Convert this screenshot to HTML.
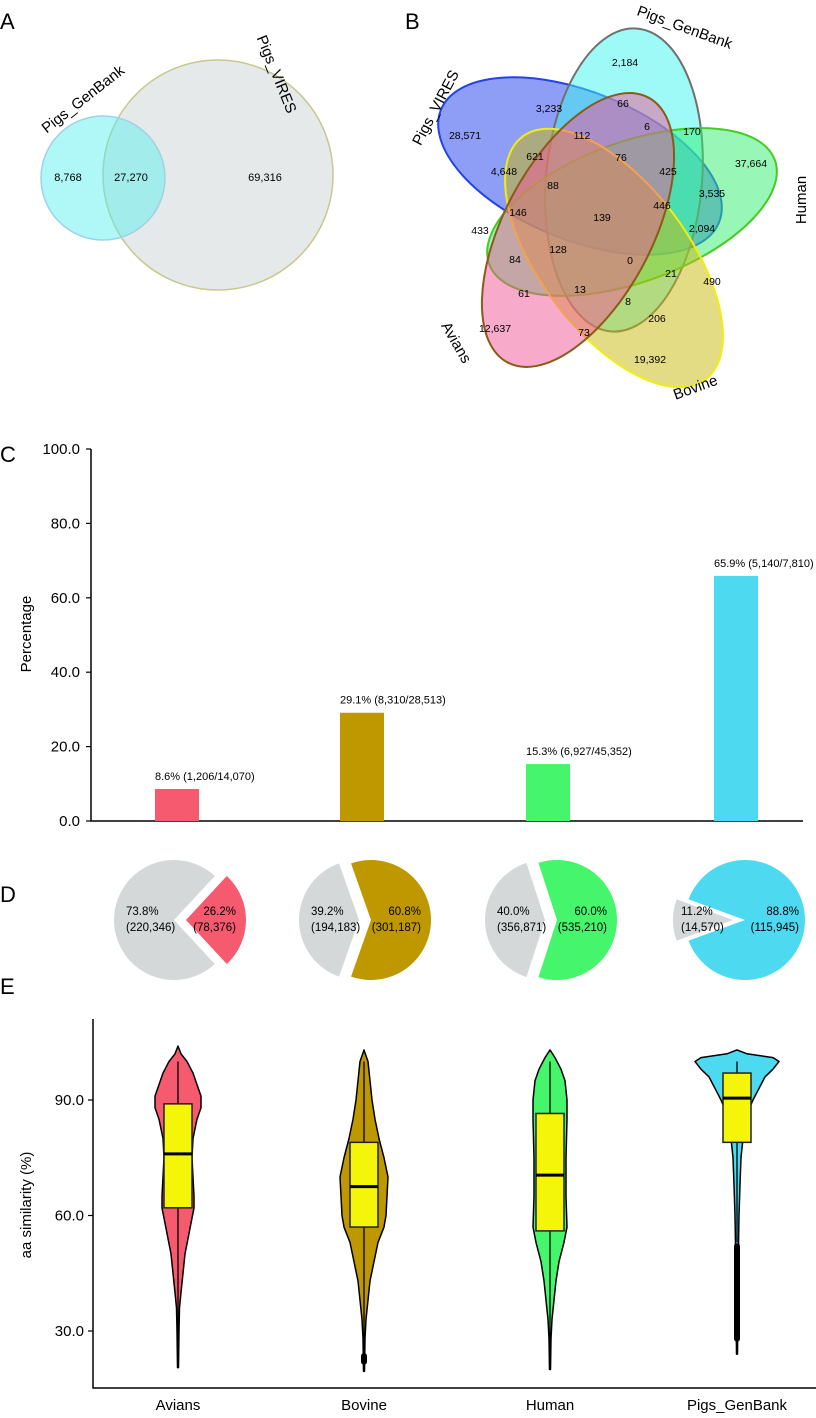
<!DOCTYPE html>
<html><head><meta charset="utf-8"><style>
body{margin:0;background:#fff}
svg{display:block;font-family:"Liberation Sans",Arial,sans-serif}
</style></head><body>
<svg id="fig" width="816" height="1418" viewBox="0 0 816 1418">
<g font-size="22" fill="#000">
<text x="0" y="29">A</text>
<text x="405" y="29">B</text>
<text x="0" y="462">C</text>
<text x="0" y="902">D</text>
<text x="0" y="994">E</text>
</g>
<g id="venn2"></g>
<g id="venn5"></g>
<g id="barc"></g>
<g id="pies"></g>
<g id="violins"></g>
</svg>
<script>
const NS='http://www.w3.org/2000/svg';
function mk(parent,tag,attrs,txt){const e=document.createElementNS(NS,tag);for(const k in attrs)e.setAttribute(k,attrs[k]);if(txt!==undefined)e.textContent=txt;parent.appendChild(e);return e;}

// ---------- Panel A ----------
const vennA=document.getElementById('venn2');
let c1=mk(vennA,'circle',{cx:218,cy:175,r:115,fill:'#e6e9e9',stroke:'#c9c78f','stroke-width':1.5});


let c2=mk(vennA,'circle',{cx:103,cy:178,r:62,fill:'rgba(80,240,240,0.45)',stroke:'#9fd2e8','stroke-width':1.5});


const vennANums=['8,768','27,270','69,316'];
const vennANumPos=[[68,181],[131,181],[265,181]];
vennANums.forEach((t,i)=>{let e=mk(vennA,'text',{x:vennANumPos[i][0],y:vennANumPos[i][1],'font-size':11,'text-anchor':'middle'},t);

});
let la=mk(vennA,'text',{x:0,y:0,'font-size':15,transform:'translate(86,103) rotate(-38)','text-anchor':'middle'},'Pigs_GenBank');


let lb=mk(vennA,'text',{x:0,y:0,'font-size':15,transform:'translate(272,76) rotate(68)','text-anchor':'middle'},'Pigs_VIRES');



// ---------- Panel B ----------
const vennB=document.getElementById('venn5');
const sets5=[
 {n:'pigs-vires',cx:580,cy:166,a:22,rx:150,ry:74,f:'rgba(30,60,235,0.5)',s:'#2244e6'},
 {n:'pigs-genbank',cx:624,cy:180,a:95,rx:152,ry:78,f:'rgba(60,245,240,0.5)',s:'#707070'},
 {n:'human',cx:632,cy:212,a:-20,rx:152,ry:70,f:'rgba(50,240,110,0.5)',s:'#44cc22'},
 {n:'bovine',cx:614,cy:258,a:53,rx:152,ry:74,f:'rgba(200,185,10,0.5)',s:'#f0ee10'},
 {n:'avians',cx:578,cy:230,a:-62,rx:150,ry:74,f:'rgba(242,85,150,0.5)',s:'#8b5a1a'}];
sets5.forEach(s=>{let e=mk(vennB,'ellipse',{cx:0,cy:0,rx:s.rx,ry:s.ry,fill:s.f,stroke:s.s,'stroke-width':2,transform:`translate(${s.cx},${s.cy}) rotate(${s.a})`});

});
const vennBNums=['2,184','3,233','28,571','66','6','170','112','621','76','425','37,664','4,648','88','3,535','446','146','139','2,094','433','128','84','0','21','490','61','13','8','206','12,637','73','19,392'];
const vennBPos=[[625,62],[549,108],[465,135],[623,103],[647,126],[692,131],[582,135],[535,156],[621,157],[668,171],[751,163],[504,171],[553,185],[712,193],[662,205],[518,212],[602,217],[702,228],[480,230],[558,249],[515,259],[630,260],[671,273],[712,281],[524,293],[580,289],[628,301],[657,318],[495,328],[584,332],[650,359]];
vennBNums.forEach((t,i)=>{let e=mk(vennB,'text',{x:vennBPos[i][0],y:vennBPos[i][1]+4,'font-size':10.5,'text-anchor':'middle'},t);

});
const vennBLabels=[['Pigs_GenBank',683,32,20],['Pigs_VIRES',440,110,-62],['Human',806,200,-90],['Bovine',697,392,-20],['Avians',452,345,60]];
vennBLabels.forEach(l=>{let e=mk(vennB,'text',{x:0,y:0,'font-size':15,'text-anchor':'middle',transform:`translate(${l[1]},${l[2]}) rotate(${l[3]})`},l[0]);

});

// ---------- Panel C ----------
const categories=['Avians','Bovine','Human','Pigs_GenBank'];
const barValues=[8.6,29.1,15.3,65.9];
const barLabels=['8.6% (1,206/14,070)','29.1% (8,310/28,513)','15.3% (6,927/45,352)','65.9% (5,140/7,810)'];
const barTicks=[0,20,40,60,80,100];
const barTickLabels=['0.0','20.0','40.0','60.0','80.0','100.0'];
const colors=['#f65a6f','#bf9800','#45f56b','#4dd9f0'];
const catX=[177,362,548,736];
const barC=document.getElementById('barc');
const yC=v=>821-v*3.72;
let axc=mk(barC,'path',{d:`M91,${yC(100)}V${yC(0)}H803`,fill:'none',stroke:'#000','stroke-width':1.5});


barTicks.forEach((t,i)=>{let tk=mk(barC,'line',{x1:86,y1:yC(t),x2:91,y2:yC(t),stroke:'#000','stroke-width':1.2});


let tl=mk(barC,'text',{x:80,y:yC(t)+5,'font-size':15,'text-anchor':'end'},barTickLabels[i]);

});
let yt=mk(barC,'text',{x:0,y:0,'font-size':15,'text-anchor':'middle',transform:'translate(31,634) rotate(-90)'},'Percentage');


barValues.forEach((v,i)=>{let r=mk(barC,'rect',{x:catX[i]-22,y:yC(v),width:44,height:yC(0)-yC(v),fill:colors[i]});


let t=mk(barC,'text',{x:catX[i]-22,y:yC(v)-9,'font-size':11},barLabels[i]);

});

// ---------- Panel D ----------
const pieFractions=[0.262,0.608,0.600,0.888];
const piePctLabels=[['73.8%','26.2%'],['39.2%','60.8%'],['40.0%','60.0%'],['11.2%','88.8%']];
const pieCountLabels=[['(220,346)','(78,376)'],['(194,183)','(301,187)'],['(356,871)','(535,210)'],['(14,570)','(115,945)']];
const pies=document.getElementById('pies');
function sector(cx,cy,r,a0,a1){const p=a=>[cx+r*Math.cos(a*Math.PI/180),cy+r*Math.sin(a*Math.PI/180)];const s=p(a0),e=p(a1);const large=(a1-a0)>180?1:0;return `M${cx},${cy}L${s[0]},${s[1]}A${r},${r} 0 ${large} 1 ${e[0]},${e[1]}Z`;}
pieFractions.forEach((f,i)=>{const cx=catX[i]+3,cy=920,r=60,d=6;const half=f*180;
let g=mk(pies,'path',{d:sector(cx-d,cy,r,half,360-half),fill:'#d4d8d8'});


let c=mk(pies,'path',{d:sector(cx+d,cy,r,-half,half),fill:colors[i]});


const lx=cx-r+(i==3?2:6), rx=cx+r-(i==3?0:4);
[[lx,'start',0],[rx,'end',1]].forEach(q=>{
let t1=mk(pies,'text',{x:q[0],y:915,'font-size':11.5,'text-anchor':q[1]},piePctLabels[i][q[2]]);


let t2=mk(pies,'text',{x:q[0],y:931,'font-size':11.5,'text-anchor':q[1]},pieCountLabels[i][q[2]]);

});
});

// ---------- Panel E ----------
const vTicks=[30,60,90];
const vTickLabels=['30.0','60.0','90.0'];
const aviansProfile=[[104,0],[102,3],[100,9],[97,15],[94,19],[91,23],[88,23],[85,19],[80,15],[75,14],[70,15],[65,16],[62,16],[58,13],[54,10],[50,7],[45,5],[40,3],[36,1.5],[30,1],[20.5,0.5]];
const bovineProfile=[[103,0],[100,4],[95,6],[90,8],[85,11],[80,15],[75,20],[70,24],[65,23],[60,22],[57,20],[53,14],[48,10],[43,6],[38,4],[33,2],[28,1],[19.5,0.5]];
const humanProfile=[[103,0],[101,5],[98,11],[95,15],[90,17],[85,17],[75,16],[65,16],[57,17],[53,14],[48,9],[43,6],[38,4],[33,2],[28,1],[20,0.5]];
const pigsProfile=[[103,0],[102,10],[101,36],[100,42],[98,36],[96,28],[93,22],[90,16],[87,11],[84,8],[80,6],[75,4],[68,3],[60,2],[52,1.5],[40,1],[24,0.5]];
const profiles=[aviansProfile,bovineProfile,humanProfile,pigsProfile];
const boxQ1=[62,57,56,79];
const boxMedian=[76,67.5,70.5,90.5];
const boxQ3=[89,79,86.5,97];
const whiskerLow=[21,25,20,53];
const whiskerHigh=[100,100,100,100];
const outlierLow=[null,22,null,28];
const outlierHigh=[null,23.5,null,52];
const vio=document.getElementById('violins');
const yE=v=>1100-(v-90)*3.85;
const vioX=[178,364,550,737];
let axe=mk(vio,'path',{d:'M93,1019V1388H816',fill:'none',stroke:'#000','stroke-width':1.5});


vTicks.forEach((t,i)=>{let tk=mk(vio,'line',{x1:88,y1:yE(t),x2:93,y2:yE(t),stroke:'#000','stroke-width':1.2});


let tl=mk(vio,'text',{x:84,y:yE(t)+5,'font-size':15,'text-anchor':'end'},vTickLabels[i]);

});
let ye=mk(vio,'text',{x:0,y:0,'font-size':15,'text-anchor':'middle',transform:'translate(31,1205) rotate(-90)'},'aa similarity (%)');


profiles.forEach((p,i)=>{const cx=vioX[i];
const right=p.map(q=>`${cx+q[1]},${yE(q[0])}`);const left=p.slice().reverse().map(q=>`${cx-q[1]},${yE(q[0])}`);
let v=mk(vio,'path',{d:'M'+right.join('L')+'L'+left.join('L')+'Z',fill:colors[i],stroke:'#000','stroke-width':1.5,'stroke-linejoin':'round'});


let w=mk(vio,'line',{x1:cx,y1:yE(whiskerHigh[i]),x2:cx,y2:yE(whiskerLow[i]),stroke:'#000','stroke-width':1.3});


if(outlierLow[i]!==null){let o=mk(vio,'line',{x1:cx,y1:yE(outlierHigh[i]),x2:cx,y2:yE(outlierLow[i]),stroke:'#000','stroke-width':6,'stroke-linecap':'round'});

}
let b=mk(vio,'rect',{x:cx-14,y:yE(boxQ3[i]),width:28,height:yE(boxQ1[i])-yE(boxQ3[i]),fill:'#f5f50a',stroke:'#222','stroke-width':1.5});


let m=mk(vio,'line',{x1:cx-14,y1:yE(boxMedian[i]),x2:cx+14,y2:yE(boxMedian[i]),stroke:'#000','stroke-width':3});


let xl=mk(vio,'text',{x:cx,y:1410,'font-size':15,'text-anchor':'middle'},categories[i]);


});
</script>
</body></html>
